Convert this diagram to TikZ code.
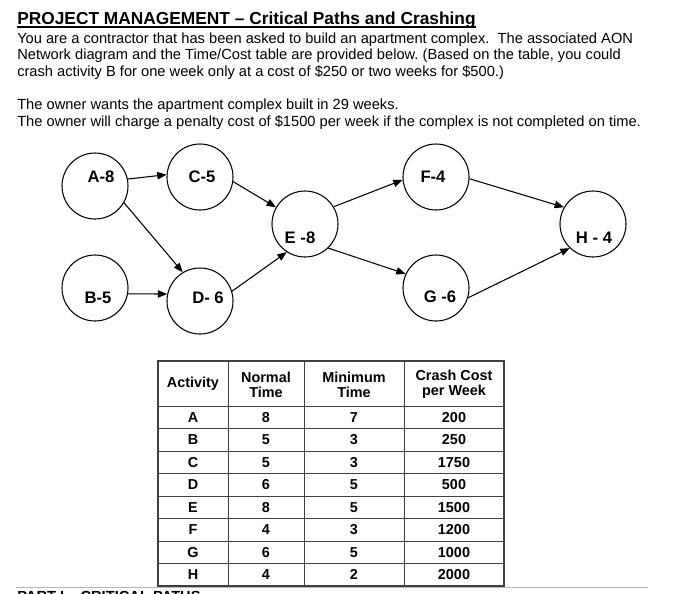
\documentclass[tikz,border=0pt]{standalone}
\usepackage{fontspec}
\setmainfont{Liberation Sans}
\usetikzlibrary{arrows.meta}
\frenchspacing

\begin{document}
\begin{tikzpicture}[
        x=0.75pt, y=-0.75pt,
        txt/.style={anchor=base west, inner sep=0pt, font=\fontsize{11}{13}\selectfont},
        act/.style={circle, draw=black, line width=0.8pt, minimum size=49.5pt, inner sep=0pt},
        actlbl/.style={font=\bfseries\fontsize{12.5}{14}\selectfont, inner sep=0pt},
        prec/.style={-{Triangle[length=7pt,width=5.5pt]}, line width=0.8pt},
        cell/.style={font=\bfseries\fontsize{10.8}{11.25}\selectfont, align=center, inner sep=0pt},
        grid/.style={draw=black!75, line width=0.6pt}
    ]
    \useasboundingbox (0,0) rectangle (700,593);

    % Heading and text
    \node[txt, font=\bfseries\fontsize{13}{15}\selectfont] (title) at (17,24.5) {PROJECT MANAGEMENT – Critical Paths and Crashing};
    \draw[line width=1.2pt] ([yshift=-1.8pt]title.base west) -- ([yshift=-1.8pt]title.base east);
    \node[txt] (line1) at (17,43) {You are a contractor that has been asked to build an apartment complex.~ The associated AON};
    \node[txt] (line2) at (17,59.5) {Network diagram and the Time/Cost table are provided below. (Based on the table, you could};
    \node[txt] (line3) at (17,76) {crash activity B for one week only at a cost of \$250 or two weeks for \$500.)};
    \node[txt] (goal) at (17,109.5) {The owner wants the apartment complex built in 29 weeks.};
    \node[txt] (penalty) at (17,126) {The owner will charge a penalty cost of \$1500 per week if the complex is not completed on time.};

    % Activities
    \node[act, label={[actlbl, name=a-t, shift={(6,-9)}]center:A-8}] (a) at (95,186) {};
    \node[act, label={[actlbl, name=b-t, shift={(3,10)}]center:B-5}] (b) at (95,288) {};
    \node[act, label={[actlbl, name=c-t, shift={(2,0)}]center:C-5}] (c) at (200,177) {};
    \node[act, label={[actlbl, name=d-t, shift={(8,-3)}]center:D- 6}] (d) at (200,301) {};
    \node[act, label={[actlbl, name=e-t, shift={(-5,14)}]center:E -8}] (e) at (305,224) {};
    \node[act, label={[actlbl, name=f-t, shift={(-3,0)}]center:F-4}] (f) at (436,177) {};
    \node[act, label={[actlbl, name=g-t, shift={(4,9)}]center:G -6}] (g) at (436,288) {};
    \node[act, label={[actlbl, name=h-t, shift={(1,14)}]center:H - 4}] (h) at (593,224) {};

    % Precedences
    \draw[prec] (a.12) -- (c.176);
    \draw[prec] (a.-30) -- (d.121);
    \draw[prec] (b.-10) -- (d.168);
    \draw[prec] (c.-8) -- (e.150);
    \draw[prec] (d.17) -- (e.237);
    \draw[prec] (e.31) -- (f.185);
    \draw[prec] (e.-46) -- (g.155);
    \draw[prec] (f.-3) -- (h.150);
    \draw[prec] (g.-17) -- (h.226);

    % Time/Cost table
    \draw[gray!55, line width=1.2pt] (16,587.5) -- (648,587.5);
    \draw[grid, line width=0.9pt] (158,361) rectangle (504,586);
    \foreach \x in {228,304,404}
        \draw[grid] (\x,361) -- (\x,586);
    \foreach \y in {406,428.5,451,473.5,496,518.5,541,563.5}
        \draw[grid] (158,\y) -- (504,\y);
    \node[cell] (h-act) at (193,384) {Activity};
    \node[cell] (h-norm) at (266,384.5) {Normal\\Time};
    \node[cell] (h-min) at (354,384.5) {Minimum\\Time};
    \node[cell] (h-crash) at (454,384.5) {Crash Cost\\per Week};
    \foreach \act/\nt/\mt/\cc [count=\i] in {A/8/7/200, B/5/3/250, C/5/3/1750, D/6/5/500,
            E/8/5/1500, F/4/3/1200, G/6/5/1000, H/4/2/2000} {
        \node[cell] (act-\i) at (193,{394.75+22.5*\i}) {\act};
        \node[cell] (norm-\i) at (266,{394.75+22.5*\i}) {\nt};
        \node[cell] (min-\i) at (354,{394.75+22.5*\i}) {\mt};
        \node[cell] (crash-\i) at (454,{394.75+22.5*\i}) {\cc};
    }

    \node[txt, font=\bfseries\fontsize{11}{13}\selectfont] (part) at (17,601) {PART I – CRITICAL PATHS};
\end{tikzpicture}
\end{document}
